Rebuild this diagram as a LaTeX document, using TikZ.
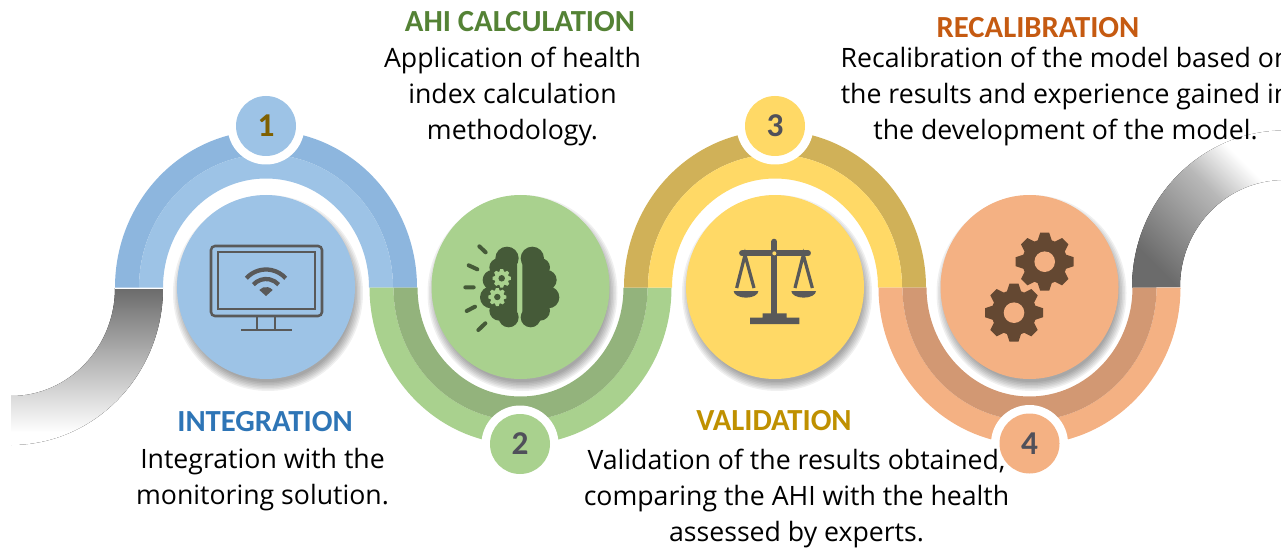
\documentclass[tikz,border=0pt]{standalone}
\usepackage{fontspec}
\setmainfont{Open Sans}
\newfontfamily\headfont{Carlito}
\definecolor{blueO}{HTML}{8DB6DE}\definecolor{blueI}{HTML}{9DC3E6}
\definecolor{greenO}{HTML}{A9D18E}\definecolor{greenI}{HTML}{93B37C}
\definecolor{yelO}{HTML}{D0B158}\definecolor{yelI}{HTML}{FFD966}
\definecolor{orO}{HTML}{F4B183}\definecolor{orI}{HTML}{D29873}
\definecolor{iconGray}{HTML}{595959}\definecolor{brainDark}{HTML}{455A38}
\definecolor{gearDark}{HTML}{644832}\definecolor{numGray}{HTML}{50505A}
\definecolor{num1}{HTML}{7F6000}\definecolor{stripGray}{HTML}{6B6B6B}
\definecolor{stripMid}{HTML}{B8B8B8}
\pgfdeclarehorizontalshading{stripfade}{100bp}{color(0bp)=(stripGray);color(25bp)=(stripGray);color(55bp)=(stripMid);color(69bp)=(white);color(100bp)=(white)}
\pgfdeclareverticalshading{stripdown}{100bp}{color(0bp)=(white);color(29bp)=(white);color(75bp)=(stripGray);color(100bp)=(stripGray)}
\tikzset{
  bodytext/.style={font=\fontsize{20}{27}\selectfont,align=center,text=black,inner sep=0pt},
  headtext/.style={font=\headfont\bfseries\fontsize{23}{26}\selectfont,inner sep=0pt},
  badge/.style={circle,minimum size=45pt,inner sep=0pt,font=\headfont\bfseries\fontsize{25}{28}\selectfont},
}
% half ring: centre x, end angle, inner rx, inner ry, outer rx, outer ry, colour
\newcommand{\halfring}[7]{\fill[#7] ({#1-#5},287.5) arc[start angle=180,end angle=#2,x radius=#5,y radius=#6] -- ({#1+#3},287.5) arc[start angle=#2,end angle=180,x radius=#3,y radius=#4] -- cycle;}
% disc with soft shadow
\newcommand{\shadowdisc}[2]{%
  \foreach \rr in {0,1.5,...,9}{\fill[black,opacity=0.06] (#1+2,293) ellipse[x radius=86+\rr,y radius=89+\rr];}
  \fill[#2] (#1,287) ellipse[x radius=89,y radius=92];}
\newcommand{\ringgroup}[4]{% cx, angle, outerband, innerband
  \halfring{#1}{#2}{127}{133}{151}{157}{#3}
  \halfring{#1}{#2}{103}{109}{127}{133}{#4}}
\newcommand{\gearicon}[5]{% cx cy R colour hole
  \begin{scope}[shift={(#1,#2)},scale=#3/29]
    \fill[#4] (0,0) circle[radius=22.5];
    \foreach \a in {0,45,...,315}{\fill[#4,rotate=\a] (-7.5,-20) -- (-4.5,-29) -- (4.5,-29) -- (7.5,-20) -- cycle;}
    \fill[#5] (0,0) circle[radius=10.3];
  \end{scope}}
\newcommand{\brainhalf}{%
  \fill[brainDark,rounded corners=7pt] (457,225) -- (457,425) -- (500,425) -- (520,380) -- (530,300) -- (510,235) -- cycle;
  \foreach \x/\y/\r in {487/235/35,513/262/27,530/300/30,535/352/33,510/392/30,482/412/30}{\fill[brainDark] (\x,\y) circle[radius=\r];}
}
\begin{document}
\begin{tikzpicture}[x=0.75pt,y=-0.75pt]
\useasboundingbox (0,0) rectangle (1281,549);
% grey ends
\fill[shading=stripdown,draw=none] (11,445) arc[start angle=90,end angle=0,x radius=152,y radius=157] -- (115,288) arc[start angle=0,end angle=90,x radius=104,y radius=108] -- cycle;
\fill[shading=stripfade,shading angle=45,draw=none] (1132,287.5) arc[start angle=180,end angle=270,x radius=152,y radius=157] -- (1284,180) arc[start angle=270,end angle=180,x radius=104,y radius=107] -- cycle;
% bands
\ringgroup{266}{360}{blueO}{blueI}
\ringgroup{520.5}{0}{greenO}{greenI}
\ringgroup{775}{360}{yelO}{yelI}
\ringgroup{1029.5}{0}{orO}{orI}
\draw[white,line width=0.7pt] (115,288) -- (163,288);
% discs
\shadowdisc{266}{blueI}
\shadowdisc{520.5}{greenO}
\shadowdisc{775}{yelI}
\shadowdisc{1029.5}{orO}
% monitor icon
\draw[iconGray,line width=1.9pt,rounded corners=3pt] (211,246) rectangle (322,316);
\draw[iconGray,line width=1.6pt] (218,252) rectangle (315,309);
\draw[iconGray,line width=1.6pt] (257,316) -- (257,330) (275,316) -- (275,330) (241,330) -- (292,330);
\draw[iconGray,line width=3.2pt] ({266-26.5*cos(42)},{296-26.5*sin(42)}) arc[start angle=222,end angle=318,radius=26.5];
\draw[iconGray,line width=3.2pt] ({266-17*cos(42)},{296-17*sin(42)}) arc[start angle=222,end angle=318,radius=17];
\fill[iconGray] (266,296) -- ({266-9*cos(42)},{296-9*sin(42)}) arc[start angle=222,end angle=318,radius=9] -- cycle;
% brain icon
\begin{scope}[shift={(370,180)},x=0.25pt,y=-0.25pt]
  \brainhalf
  \begin{scope}[shift={(898,0)},xscale=-1]\brainhalf\end{scope}
  \draw[brainDark,line width=3pt,line cap=round] (328,199) -- (347,217) (296,256) -- (322,268) (286,322) -- (311,322) (290,393) -- (315,380) (325,450) -- (346,430);
\end{scope}
\gearicon{501.7}{278.3}{9.2}{greenO}{brainDark}
\gearicon{497.3}{297}{9}{greenO}{brainDark}
% scales icon
\begin{scope}[shift={(620,90)},x=0.25pt,y=-0.25pt]
  \draw[iconGray,line width=4.4pt,line cap=round] (463,455) -- (463,490);
  \draw[iconGray,line width=4.4pt] (463,490) -- (463,675);
  \draw[iconGray,line width=4.4pt,line cap=round] (366,490) -- (564,490);
  \fill[yelI] (463,490) circle[radius=6];
  \draw[iconGray,line width=2.4pt] (350,594) -- (375,495) -- (402,594) (525,594) -- (550,495) -- (577,594);
  \fill[iconGray] (341,603) arc[start angle=180,end angle=0,x radius=37,y radius=20] -- cycle;
  \fill[iconGray] (514,603) arc[start angle=180,end angle=0,x radius=37,y radius=20] -- cycle;
  \fill[iconGray] (428,670) rectangle (500,684) (390,683) rectangle (538,702);
\end{scope}
% gears icon
\gearicon{1044.7}{261.7}{29}{gearDark}{orO}
\gearicon{1014}{312.7}{29}{gearDark}{orO}
% badges
\foreach \cx/\cy in {266/126,520/444,775/126,1029.5/443.5}{
  \fill[white] (\cx,\cy) circle[radius=38.5];
}
\node[badge,fill=blueI,text=num1] (n1) at (266,126) {1};
\node[badge,fill=greenO,text=numGray] (n2) at (520,444) {2};
\node[badge,fill=yelI,text=numGray] (n3) at (775,126) {3};
\node[badge,fill=orO,text=numGray] (n4) at (1029.5,443.5) {4};
% text
\node[headtext,text={rgb,255:red,84;green,130;blue,53}] (h2) at (520,22) {AHI CALCULATION};
\node[bodytext] (t2) at (512.5,97) {Application of health\\index calculation\\methodology.};
\node[headtext,text={rgb,255:red,197;green,90;blue,17}] (h4) at (1038,28) {RECALIBRATION};
\node[bodytext] (t4) at (1065.5,97) {Recalibration of the model based on\\the results and experience gained in\\the development of the model.};
\node[headtext,text={rgb,255:red,46;green,117;blue,182}] (h1) at (265,422) {INTEGRATION};
\node[bodytext] (t1) at (262.5,480) {Integration with the\\monitoring solution.};
\node[headtext,text={rgb,255:red,191;green,144;blue,0}] (h3) at (774,421) {VALIDATION};
\node[bodytext] (t3) at (796.5,498) {Validation of the results obtained,\\comparing the AHI with the health\\assessed by experts.};
\end{tikzpicture}
\end{document}
